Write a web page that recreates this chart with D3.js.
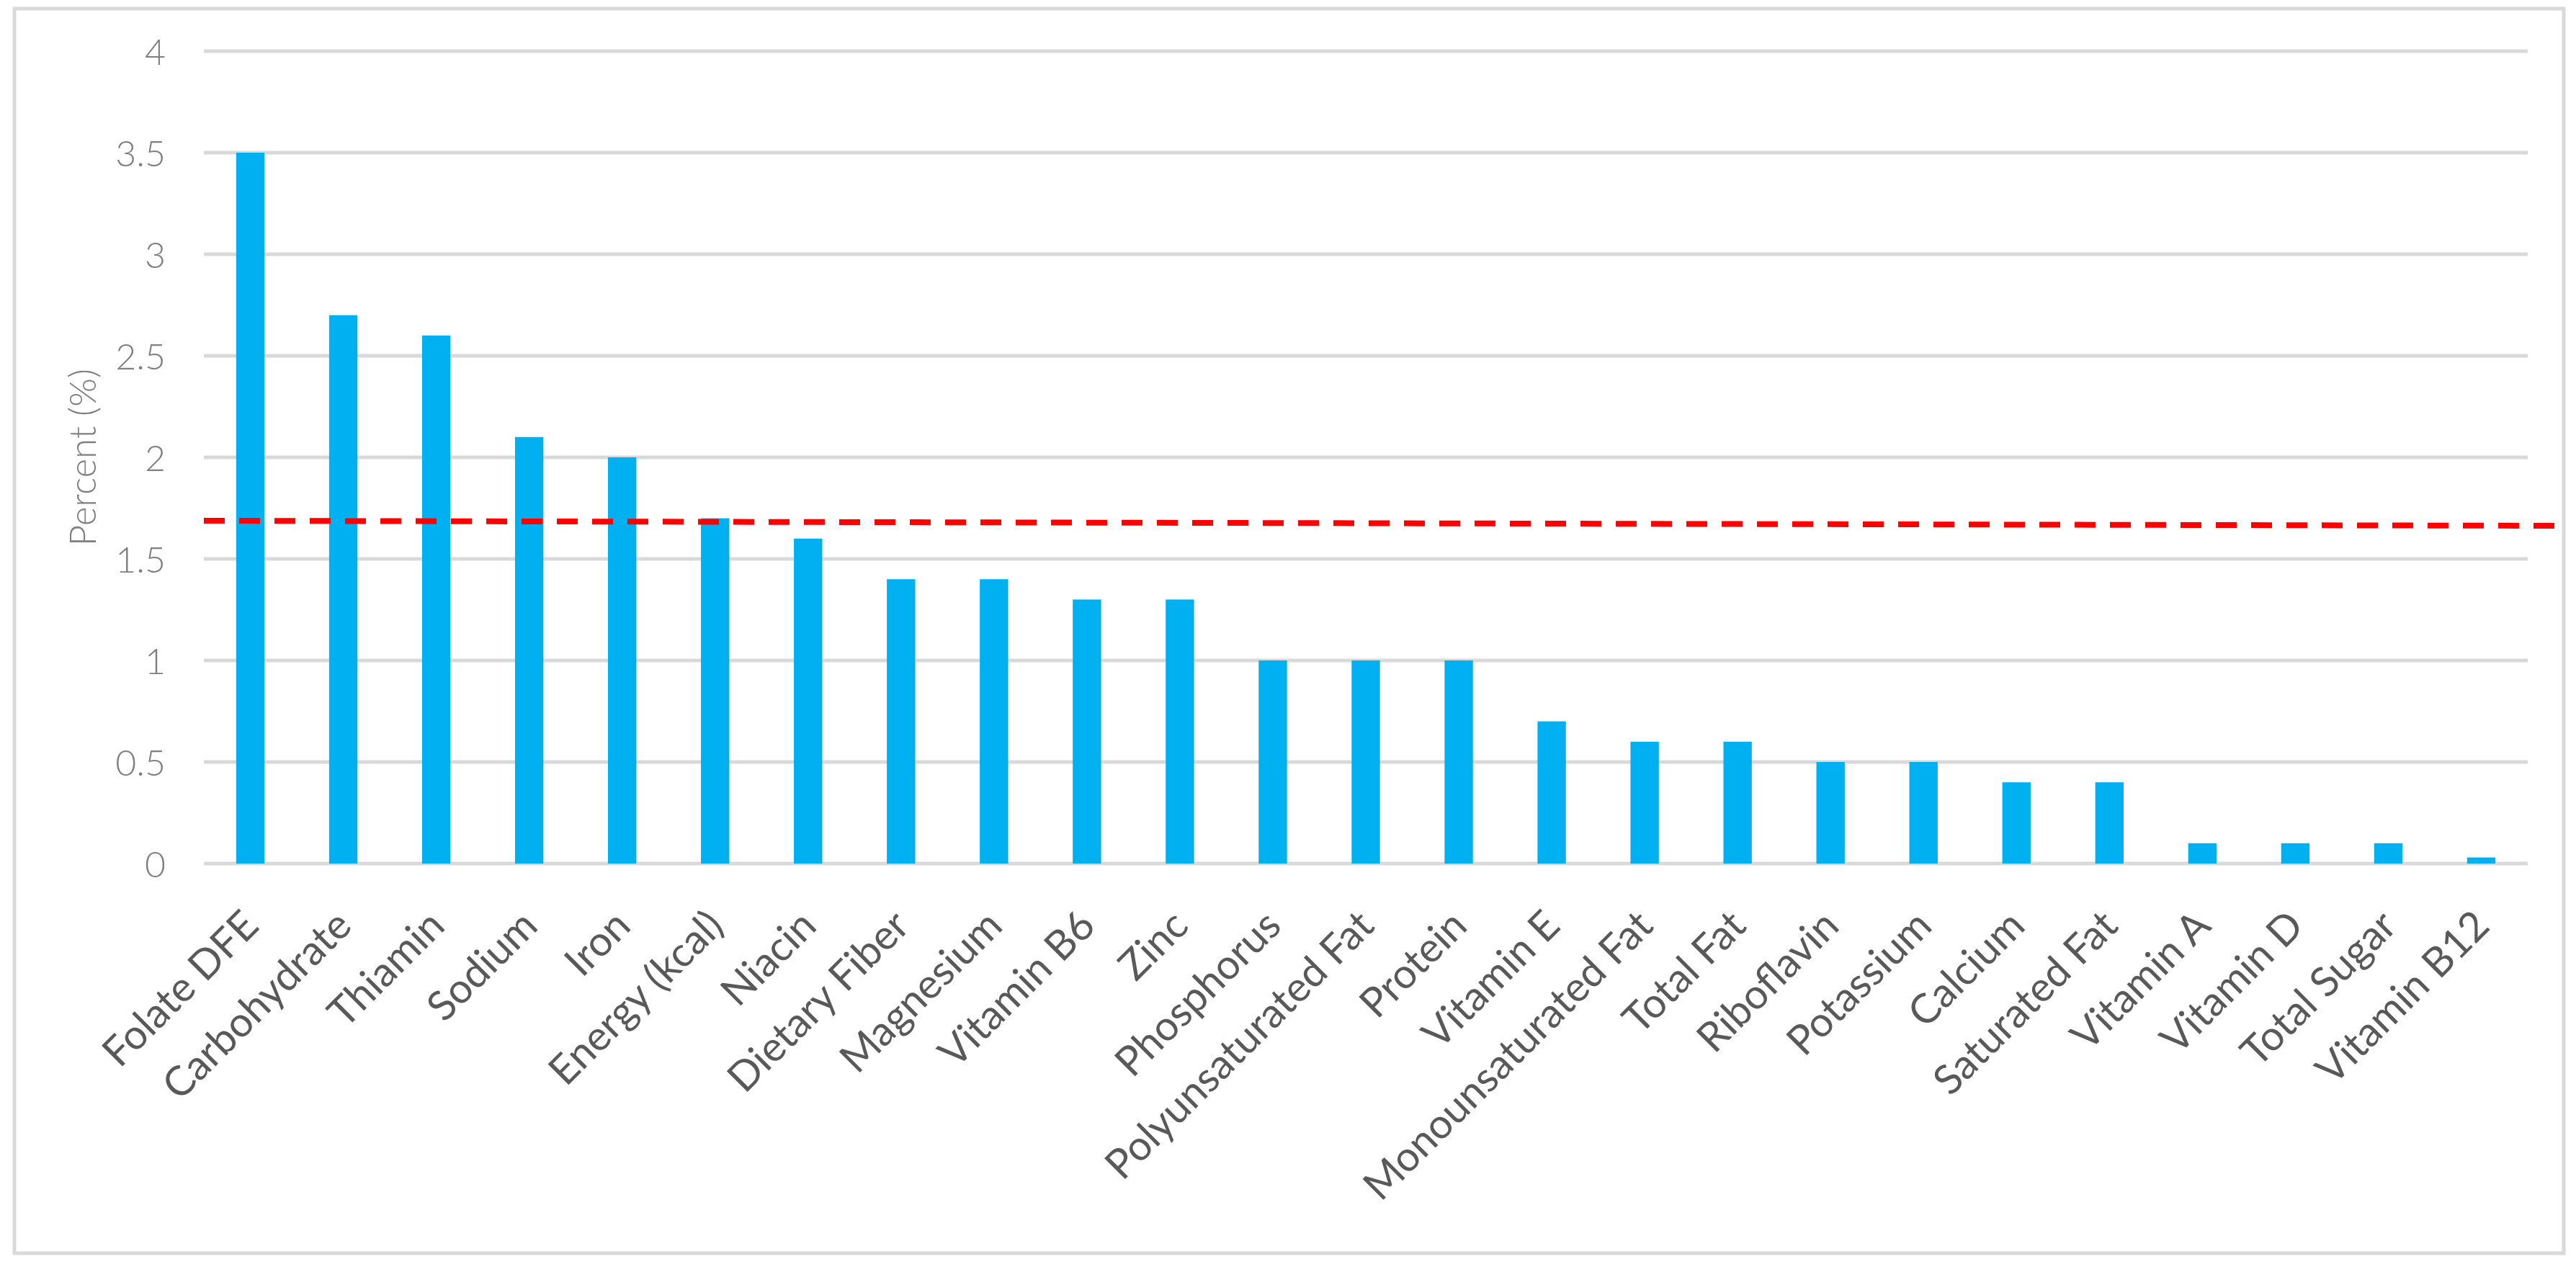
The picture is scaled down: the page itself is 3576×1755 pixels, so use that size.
<!DOCTYPE html>
<html>
<head>
<meta charset="utf-8">
<script src="https://cdn.jsdelivr.net/npm/d3@7"></script>
<style>
  body { margin: 0; background: #fff; }
  svg { display: block; }
</style>
</head>
<body>
<svg class="plot" width="3576" height="1755"></svg>
<script>
// nutrients, sorted by percent
var nutrients = ["Folate DFE", "Carbohydrate", "Thiamin", "Sodium", "Iron", "Energy (kcal)",
  "Niacin", "Dietary Fiber", "Magnesium", "Vitamin B6", "Zinc", "Phosphorus",
  "Polyunsaturated Fat", "Protein", "Vitamin E", "Monounsaturated Fat", "Total Fat",
  "Riboflavin", "Potassium", "Calcium", "Saturated Fat", "Vitamin A", "Vitamin D",
  "Total Sugar", "Vitamin B12"];
var percents = [3.5, 2.7, 2.6, 2.1, 2.0, 1.7, 1.6, 1.4, 1.4, 1.3, 1.3, 1.0,
  1.0, 1.0, 0.7, 0.6, 0.6, 0.5, 0.5, 0.4, 0.4, 0.1, 0.1, 0.1, 0.03];
var yTicks = [0, 0.5, 1, 1.5, 2, 2.5, 3, 3.5, 4];
// red dashed reference line: position in category units from the left edge, value
var refPos = [0, 25.31];
var refVal = [1.688, 1.663];

var svg = d3.select(".plot"),
    margin = {top: 71, right: 67, bottom: 556, left: 283},
    width = +svg.attr("width") - margin.left - margin.right,
    height = +svg.attr("height") - margin.top - margin.bottom;

var data = nutrients.map(function(n, i) { return {name: n, value: percents[i]}; });

var x = d3.scaleBand().domain(nutrients).range([0, width]).paddingInner(0.695).paddingOuter(0.3475),
    y = d3.scaleLinear().domain([0, 4]).range([height, 0]),
    xRef = d3.scaleLinear().domain([0, nutrients.length]).range([0, width]);

// chart border
svg.append("rect")
    .attr("x", 20).attr("y", 12)
    .attr("width", 3539).attr("height", 1728)
    .attr("fill", "#fff")
    .attr("stroke", "#d9d9d9")
    .attr("stroke-width", 5);

var g = svg.append("g")
    .attr("transform", "translate(" + margin.left + "," + margin.top + ")");

//gridlines
g.append("g")
    .selectAll("line")
    .data(yTicks)
    .enter().append("line")
    .attr("x1", 0).attr("x2", width)
    .attr("y1", function(d) { return y(d); })
    .attr("y2", function(d) { return y(d); })
    .attr("stroke", "#d9d9d9")
    .attr("stroke-width", 5);

//y axis labels
var yAxis = g.append("g")
    .call(d3.axisLeft(y).tickValues(yTicks).tickSize(0).tickPadding(53).tickFormat(d3.format("")));
yAxis.select(".domain").remove();
yAxis.selectAll("text")
    .attr("dy", "0.36em")
    .style("font-family", "Lato, 'Open Sans', sans-serif")
    .style("font-weight", 300)
    .style("font-size", "50px")
    .style("fill", "#7f7f7f");

svg.append("text")
    .attr("transform", "translate(133," + (margin.top + height / 2) + ") rotate(-90)")
    .style("text-anchor", "middle")
    .style("font-family", "Lato, 'Open Sans', sans-serif")
    .style("font-weight", 300)
    .style("font-size", "51px")
    .style("fill", "#7f7f7f")
    .text("Percent (%)");

//bars
g.selectAll(".bar")
    .data(data)
    .enter().append("rect")
    .attr("class", "bar")
    .attr("x", function(d) { return x(d.name); })
    .attr("y", function(d) { return y(d.value); })
    .attr("width", x.bandwidth())
    .attr("height", function(d) { return height - y(d.value); })
    .attr("fill", "#00b0f0");

//category labels
g.append("g")
    .selectAll("text")
    .data(nutrients)
    .enter().append("text")
    .attr("transform", function(d) {
      return "translate(" + (x(d) + x.bandwidth() / 2) + "," + (height + 75) + ") rotate(-45)";
    })
    .attr("dy", "0.36em")
    .style("text-anchor", "end")
    .style("font-family", "Lato, 'Open Sans', sans-serif")
    .style("font-size", "57px")
    .style("fill", "#595959")
    .text(function(d) { return d; });

//reference line
var line = d3.line()
    .x(function(d) { return xRef(d[0]); })
    .y(function(d) { return y(d[1]); });

g.append("path")
    .datum(d3.zip(refPos, refVal))
    .attr("d", line)
    .attr("fill", "none")
    .attr("stroke", "#ff0000")
    .attr("stroke-width", 8)
    .attr("stroke-dasharray", "29,20");
</script>
</body>
</html>
